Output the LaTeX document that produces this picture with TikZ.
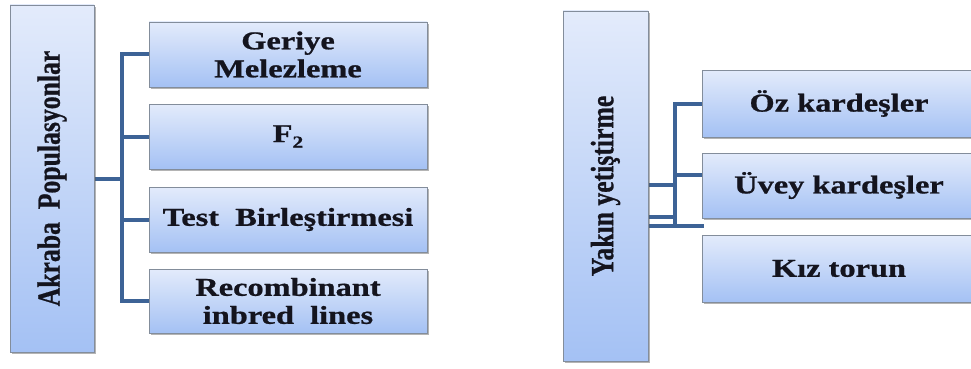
\documentclass[tikz,border=0pt]{standalone}
\usepackage{fontspec}
\setmainfont{Liberation Serif}
\newfontfamily\wideserif[FakeStretch=1.26,FakeBold=0.8]{Liberation Serif}
\newfontfamily\plainserif[FakeBold=0.8]{Liberation Serif}
\usetikzlibrary{shadows,backgrounds}
\definecolor{boxtop}{HTML}{E3EBFB}
\definecolor{boxbot}{HTML}{A4C1F4}
\definecolor{boxedge}{HTML}{838D9B}
\definecolor{connblue}{HTML}{3D6396}
\definecolor{inkdark}{HTML}{14141E}
\tikzset{
  x=1pt, y=-1pt,
  kutu/.style={rectangle, draw=boxedge, line width=0.9pt, top color=boxtop, bottom color=boxbot,
    drop shadow={shadow xshift=1.5pt, shadow yshift=-1.8pt, opacity=0.45, fill=black!65},
    inner sep=0pt, align=center, text=inkdark, font=\wideserif\bfseries\fontsize{25.7}{28}\selectfont},
  conn/.style={draw=connblue, line width=4pt, line cap=rect}
}
\newcommand{\vtext}[1]{\rotatebox{90}{\scalebox{1}[1.26]{\plainserif\bfseries\fontsize{25.7}{28}\selectfont #1}}}
\begin{document}
\begin{tikzpicture}
\useasboundingbox (0,0) rectangle (971,369);
% left group
\node[kutu, minimum width=84pt, minimum height=347pt] (L) at (52,178.5) {\vtext{Akraba\ \ Populasyonlar}};
\node[kutu, minimum width=278pt, minimum height=65pt] (b1) at (288,54.5) {Geriye\\Melezleme};
\node[kutu, minimum width=278pt, minimum height=65pt] (b2) at (288,136.5) {F\raisebox{-0.22em}{\fontsize{17}{17}\selectfont 2}};
\node[kutu, minimum width=278pt, minimum height=65pt] (b3) at (288,219.5) {Test\ \ Birleştirmesi};
\node[kutu, minimum width=278pt, minimum height=64pt] (b4) at (288,301) {Recombinant\\inbred\ \ lines};
% right group
\node[kutu, minimum width=85pt, minimum height=350pt] (R) at (605.5,186) {\vtext{Yakın yetiştirme}};
\node[kutu, minimum width=274pt, minimum height=67pt] (r1) at (839,103.5) {Öz kardeşler};
\node[kutu, minimum width=274pt, minimum height=65pt] (r2) at (839,185.5) {Üvey kardeşler};
\node[kutu, minimum width=274pt, minimum height=67pt] (r3) at (839,268.5) {Kız torun};
\coordinate (lt) at (122,178.5);
\coordinate (rt) at (675,103.5);
\coordinate (r2in) at (702,175);
\coordinate (ra) at (648,185);
\coordinate (rb) at (648,217);
\coordinate (rc) at (648,226);
\coordinate (rcend) at (702,226);
\begin{scope}[on background layer]
  \draw[conn] (L.east) -- (lt);
  \draw[conn] (lt |- b1.west) -- (lt |- b4.west);
  \draw[conn] (lt |- b1.west) -- (b1.west);
  \draw[conn] (lt |- b2.west) -- (b2.west);
  \draw[conn] (lt |- b3.west) -- (b3.west);
  \draw[conn] (lt |- b4.west) -- (b4.west);
  \draw[conn] (rt |- r1.west) -- (rt |- rc);
  \draw[conn] (rt |- r1.west) -- (r1.west);
  \draw[conn] (rt |- r2in) -- (r2in);
  \draw[conn] (ra) -- (rt |- ra);
  \draw[conn] (rb) -- (rt |- rb);
  \draw[conn] (rc) -- (rcend);
\end{scope}
\end{tikzpicture}
\end{document}
